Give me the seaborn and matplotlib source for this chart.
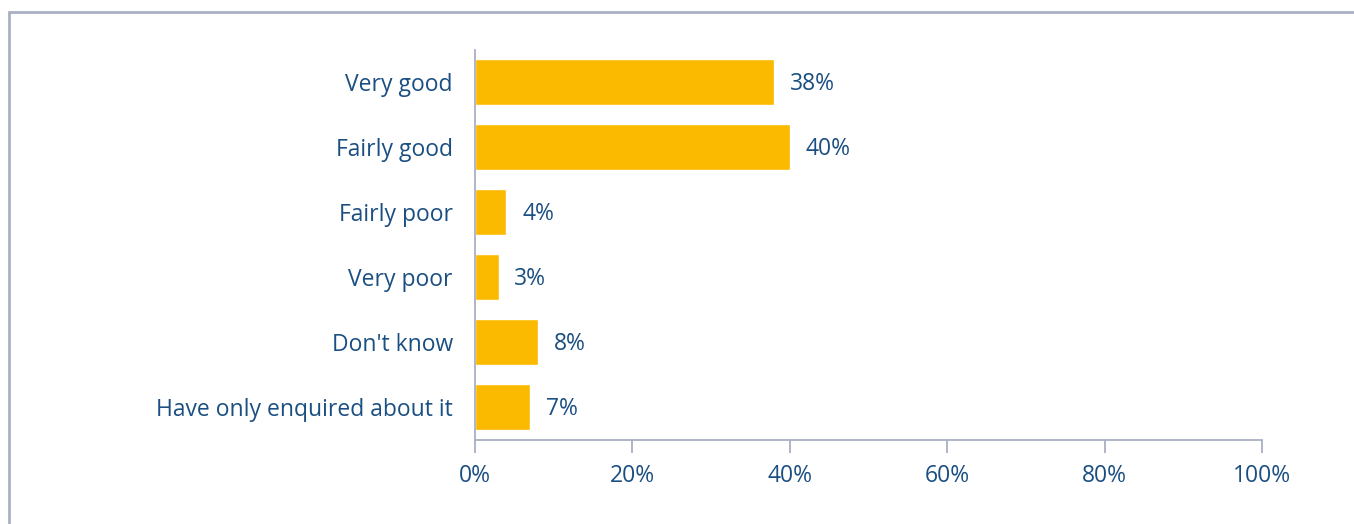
import matplotlib
matplotlib.use("Agg")
import matplotlib.pyplot as plt
import seaborn as sns
import pandas as pd
from matplotlib.lines import Line2D

categories = ["Very good", "Fairly good", "Fairly poor", "Very poor", "Don't know", "Have only enquired about it"]
values = [38, 40, 4, 3, 8, 7]
xticks = [0, 20, 40, 60, 80, 100]
xticklabels = ["0%", "20%", "40%", "60%", "80%", "100%"]

sns.set_style("white")
plt.rcParams['font.family'] = ['Open Sans', 'DejaVu Sans']

text_color = "#1B4F82"
bar_color = "#FBBA00"
axis_color = "#A9B0C3"
fs = 16.5

df = pd.DataFrame({"category": categories, "value": values})

fig = plt.figure(figsize=(13.54, 5.24), dpi=100)
ax = fig.add_axes([475/1354, 1 - 439.5/524, (1262-475)/1354, 390/524])

sns.barplot(data=df, x="value", y="category", orient="h", color=bar_color,
            width=0.70, saturation=1, ax=ax)

ax.set_xlim(0, 100)
ax.set_ylim(5.5, -0.5)
ax.set_xticks(xticks)
ax.set_xticklabels(xticklabels)
ax.set_xlabel("")
ax.set_ylabel("")

for i, v in enumerate(values):
    ax.text(v + 2.0, i + 0.03, f"{v}%", va="center", ha="left", fontsize=fs, color=text_color)

for s in ["top", "right"]:
    ax.spines[s].set_visible(False)
for s in ["left", "bottom"]:
    ax.spines[s].set_color(axis_color)
    ax.spines[s].set_linewidth(1.3)

ax.tick_params(axis="x", direction="out", length=9, width=1.3, color=axis_color,
               labelsize=fs, labelcolor=text_color, pad=9, bottom=True)
ax.tick_params(axis="y", length=0, labelsize=fs, labelcolor=text_color, pad=16, left=False)

# figure border (top and left visible)
fig.add_artist(Line2D([9/1354, 9/1354], [0, 1 - 12/524], transform=fig.transFigure,
                      color=axis_color, lw=2))
fig.add_artist(Line2D([9/1354, 1], [1 - 12/524, 1 - 12/524], transform=fig.transFigure,
                      color=axis_color, lw=2))

fig.savefig("out.png", dpi=100)
